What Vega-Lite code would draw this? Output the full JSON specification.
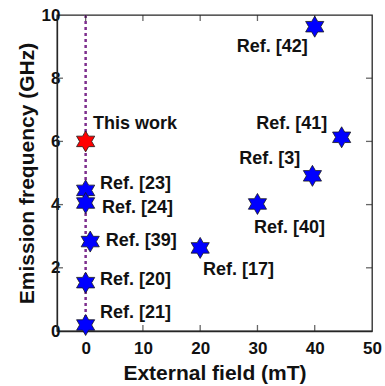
{
  "$schema": "https://vega.github.io/schema/vega-lite/v6.json",
  "autosize": "none",
  "width": 315,
  "height": 316,
  "padding": {"left": 57, "top": 15, "right": 13, "bottom": 55},
  "background": "white",
  "config": {
    "view": {"stroke": "#262626", "strokeWidth": 1.3},
    "font": "Liberation Sans"
  },
  "datasets": {
    "points": [
      {"x": 0, "y": 6.0, "label": "This work", "lx": 1.27, "ly": 6.55, "type": "This work"},
      {"x": 0, "y": 4.45, "label": "Ref. [23]", "lx": 2.5, "ly": 4.65, "type": "Ref"},
      {"x": 0, "y": 4.05, "label": "Ref. [24]", "lx": 2.85, "ly": 3.9, "type": "Ref"},
      {"x": 0.8, "y": 2.83, "label": "Ref. [39]", "lx": 3.5, "ly": 2.86, "type": "Ref"},
      {"x": 0, "y": 1.53, "label": "Ref. [20]", "lx": 2.5, "ly": 1.62, "type": "Ref"},
      {"x": 0, "y": 0.19, "label": "Ref. [21]", "lx": 2.5, "ly": 0.58, "type": "Ref"},
      {"x": 20, "y": 2.63, "label": "Ref. [17]", "lx": 20.5, "ly": 1.94, "type": "Ref"},
      {"x": 30, "y": 4.02, "label": "Ref. [40]", "lx": 29.4, "ly": 3.27, "type": "Ref"},
      {"x": 39.6, "y": 4.91, "label": "Ref. [3]", "lx": 26.8, "ly": 5.45, "type": "Ref"},
      {"x": 44.7, "y": 6.13, "label": "Ref. [41]", "lx": 29.8, "ly": 6.55, "type": "Ref"},
      {"x": 40, "y": 9.63, "label": "Ref. [42]", "lx": 26.4, "ly": 9.0, "type": "Ref"}
    ],
    "xticks": [{"t": 0}, {"t": 10}, {"t": 20}, {"t": 30}, {"t": 40}],
    "yticks": [{"t": 2}, {"t": 4}, {"t": 6}, {"t": 8}]
  },
  "data": {"name": "points"},
  "layer": [
    {
      "data": {"values": [{"x": 0}]},
      "mark": {"type": "rule", "color": "#7E2F8E", "strokeWidth": 2.5, "strokeDash": [3, 3]},
      "encoding": {
        "x": {"field": "x", "type": "quantitative", "scale": {"domain": [-5, 50], "nice": false},
              "axis": {"title": "External field (mT)", "values": [0, 10, 20, 30, 40, 50], "grid": false,
                       "domain": true, "domainColor": "#262626", "domainWidth": 1.3,
                       "ticks": true, "tickSize": 9, "tickWidth": 0, "tickColor": "white",
                       "labels": true, "labelPadding": 0, "labelFlush": false, "labelAngle": 0, "labelFont": "Liberation Sans", "labelFontWeight": "bold", "labelFontSize": 17, "labelColor": "#111",
                       "titlePadding": 6, "titleFont": "Liberation Sans", "titleFontWeight": "bold", "titleFontSize": 21, "titleColor": "#111"}}
      }
    },
    {
      "data": {"name": "xticks"},
      "mark": {"type": "tick", "orient": "vertical", "size": 6, "thickness": 1.3, "color": "#262626", "yOffset": -3},
      "encoding": {"x": {"field": "t", "type": "quantitative"}, "y": {"datum": 0, "type": "quantitative"}}
    },
    {
      "data": {"name": "xticks"},
      "mark": {"type": "tick", "orient": "vertical", "size": 6, "thickness": 1.3, "color": "#262626", "yOffset": 3},
      "encoding": {"x": {"field": "t", "type": "quantitative"}, "y": {"datum": 10, "type": "quantitative"}}
    },
    {
      "data": {"name": "yticks"},
      "mark": {"type": "tick", "orient": "horizontal", "size": 6, "thickness": 1.3, "color": "#262626", "xOffset": 3},
      "encoding": {"y": {"field": "t", "type": "quantitative"}, "x": {"datum": -5, "type": "quantitative"}}
    },
    {
      "data": {"name": "yticks"},
      "mark": {"type": "tick", "orient": "horizontal", "size": 6, "thickness": 1.3, "color": "#262626", "xOffset": -3},
      "encoding": {"y": {"field": "t", "type": "quantitative"}, "x": {"datum": 50, "type": "quantitative"}}
    },
    {
      "mark": {"type": "point", "filled": true, "opacity": 1, "size": 441, "strokeWidth": 0.8, "stroke": "#1a1a1a",
               "shape": "M0,-1L0.289,-0.5L0.866,-0.5L0.577,0L0.866,0.5L0.289,0.5L0,1L-0.289,0.5L-0.866,0.5L-0.577,0L-0.866,-0.5L-0.289,-0.5Z"},
      "encoding": {
        "x": {"field": "x", "type": "quantitative", "scale": {"domain": [-5, 50], "nice": false}},
        "y": {"field": "y", "type": "quantitative", "scale": {"domain": [0, 10], "nice": false},
              "axis": {"title": "Emission frequency (GHz)", "values": [0, 2, 4, 6, 8, 10], "grid": false,
                       "domain": true, "domainColor": "#262626", "domainWidth": 1.3,
                       "ticks": true, "tickSize": 7, "tickWidth": 0, "tickColor": "white",
                       "labels": true, "labelPadding": -10, "labelFlush": false, "labelFont": "Liberation Sans", "labelFontWeight": "bold", "labelFontSize": 17, "labelColor": "#111",
                       "titlePadding": 4, "titleFont": "Liberation Sans", "titleFontWeight": "bold", "titleFontSize": 21, "titleColor": "#111"}},
        "fill": {"field": "type", "type": "nominal", "scale": {"domain": ["This work", "Ref"], "range": ["#FF0000", "#0000FF"]}, "legend": null}
      }
    },
    {
      "mark": {"type": "text", "align": "left", "baseline": "middle", "fontSize": 18, "fontWeight": "bold", "font": "Liberation Sans", "color": "#111"},
      "encoding": {
        "x": {"field": "lx", "type": "quantitative"},
        "y": {"field": "ly", "type": "quantitative"},
        "text": {"field": "label"}
      }
    }
  ]
}
